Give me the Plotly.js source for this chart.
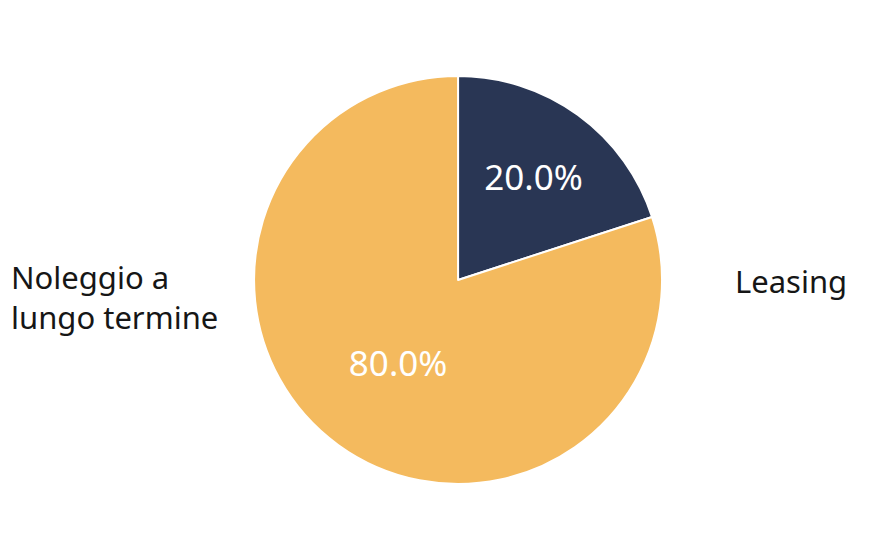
<!DOCTYPE html>
<html>
<head>
<meta charset="utf-8">
<script src="https://cdn.plot.ly/plotly-3.0.1.min.js"></script>
<style>
  html, body { margin: 0; padding: 0; background: #ffffff; }
  #chart { width: 870px; height: 551px; }
</style>
</head>
<body>
<div id="chart"></div>
<script>
// Contract mix: share of each rental formula
const categories = ['Leasing', 'Noleggio a lungo termine'];
const shares = [20, 80];
const sliceColors = ['#293654', '#F4BA5E'];
// Display text for the outer labels (line breaks for the long one)
const labelTexts = ['Leasing', 'Noleggio a<br>lungo termine'];

const FONT = '"Noto Sans", Lato, sans-serif';

const trace = {
  type: 'pie',
  labels: categories,
  values: shares,
  sort: false,
  direction: 'clockwise',
  rotation: 0,
  marker: { colors: sliceColors, line: { color: '#ffffff', width: 2 } },
  texttemplate: '%{percent:.1%}',
  textposition: 'inside',
  insidetextorientation: 'horizontal',
  insidetextfont: { family: FONT, size: 35, color: '#ffffff' },
  hoverinfo: 'label+percent',
  showlegend: false,
  domain: { x: [0.292, 0.761], y: [0.1216, 0.862] }
};

const layout = {
  width: 870,
  height: 551,
  margin: { l: 0, r: 0, t: 0, b: 0 },
  paper_bgcolor: '#ffffff',
  font: { family: FONT, color: '#161616' },
  annotations: [
    {
      text: labelTexts[0], xref: 'paper', yref: 'paper',
      x: 733 / 870, y: 1 - 281 / 551, xanchor: 'left', yanchor: 'middle',
      align: 'left', showarrow: false,
      font: { family: FONT, size: 31, color: '#161616' }
    },
    {
      text: labelTexts[1], xref: 'paper', yref: 'paper',
      x: 9 / 870, y: 1 - 297 / 551, xanchor: 'left', yanchor: 'middle',
      align: 'left', showarrow: false,
      font: { family: FONT, size: 31, color: '#161616' }
    }
  ]
};

Plotly.newPlot('chart', [trace], layout, { displayModeBar: false, staticPlot: true });
</script>
</body>
</html>
